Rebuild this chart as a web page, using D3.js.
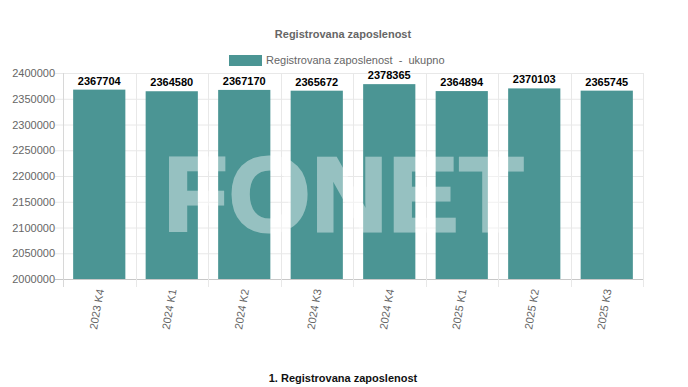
<!DOCTYPE html>
<html>
<head>
<meta charset="utf-8">
<script src="https://cdn.jsdelivr.net/npm/d3@7"></script>
<style>
  body { margin: 0; background: #fff; }
  text { font-family: "Liberation Sans", Arial, sans-serif; }
</style>
</head>
<body>
<script>
const quarters = ["2023 K4", "2024 K1", "2024 K2", "2024 K3", "2024 K4", "2025 K1", "2025 K2", "2025 K3"];
const employed = [2367704, 2364580, 2367170, 2365672, 2378365, 2364894, 2370103, 2365745];
const yTicks = [2000000, 2050000, 2100000, 2150000, 2200000, 2250000, 2300000, 2350000, 2400000];

const width = 688, height = 387;
const plotLeft = 63, plotRight = 643, plotTop = 73, plotBottom = 279;
const barColor = "#4b9594";

const svg = d3.select("body").append("svg")
  .attr("width", width)
  .attr("height", height);

const x = d3.scaleBand().domain(quarters).range([plotLeft, plotRight]).paddingInner(0.28).paddingOuter(0.14);
const y = d3.scaleLinear().domain([2000000, 2400000]).range([plotBottom, plotTop]);

// title + legend
svg.append("text")
  .attr("x", 343).attr("y", 38)
  .attr("text-anchor", "middle")
  .style("font-size", "11px").style("font-weight", "bold").attr("fill", "#666")
  .text("Registrovana zaposlenost");

svg.append("rect").attr("x", 229).attr("y", 55).attr("width", 33).attr("height", 11).attr("fill", barColor);
svg.append("text")
  .attr("x", 266).attr("y", 64)
  .style("font-size", "11px").style("white-space", "pre").attr("fill", "#666")
  .text("Registrovana zaposlenost  -  ukupno");

// horizontal grid + y labels
const yAxis = svg.append("g");
yTicks.forEach(t => {
  yAxis.append("line")
    .attr("x1", plotLeft - 8).attr("x2", plotRight)
    .attr("y1", y(t) + 0.5).attr("y2", y(t) + 0.5)
    .attr("stroke", t === 2000000 ? "#c8c8c8" : "#e8e8e8");
  yAxis.append("text")
    .attr("x", plotLeft - 8).attr("y", y(t) + 4)
    .attr("text-anchor", "end")
    .style("font-size", "11px").attr("fill", "#666")
    .text(t);
});

// vertical grid lines at category boundaries
const step = x.step();
d3.range(quarters.length + 1).forEach(i => {
  const gx = Math.round(plotLeft + i * step) + 0.5;
  svg.append("line")
    .attr("x1", gx).attr("x2", gx)
    .attr("y1", plotTop).attr("y2", plotBottom + 8)
    .attr("stroke", i === 0 ? "#d8d8d8" : "#e8e8e8");
});

// bars
svg.selectAll("rect.bar")
  .data(employed)
  .enter()
  .append("rect")
  .attr("class", "bar")
  .attr("x", (d, i) => x(quarters[i]))
  .attr("width", x.bandwidth())
  .attr("y", d => y(d))
  .attr("height", d => plotBottom - y(d))
  .attr("fill", barColor);

// watermark
svg.append("text")
  .attr("x", 344).attr("y", 231)
  .attr("text-anchor", "middle")
  .style("font-size", "105px").style("font-weight", "bold")
  .style("letter-spacing", "1px")
  .attr("fill", "#fff").attr("stroke", "#fff").attr("stroke-width", 3)
  .attr("stroke-linejoin", "miter")
  .attr("opacity", 0.42)
  .text("FONET");

// value labels
svg.selectAll("text.val")
  .data(employed)
  .enter()
  .append("text")
  .attr("class", "val")
  .attr("x", (d, i) => x(quarters[i]) + x.bandwidth() / 2)
  .attr("y", d => y(d) - 5)
  .attr("text-anchor", "middle")
  .style("font-size", "11px").style("font-weight", "bold").attr("fill", "#000")
  .text(d => d);

// x labels rotated
svg.selectAll("text.xl")
  .data(quarters)
  .enter()
  .append("text")
  .attr("class", "xl")
  .attr("transform", d => `translate(${x(d) + x.bandwidth() / 2 + 1},${plotBottom + 10}) rotate(-80)`)
  .attr("text-anchor", "end")
  .attr("dy", "0.35em")
  .style("font-size", "11px").attr("fill", "#666")
  .text(d => d);

// caption
svg.append("text")
  .attr("x", 343).attr("y", 382)
  .attr("text-anchor", "middle")
  .style("font-size", "11px").style("font-weight", "bold").attr("fill", "#111")
  .text("1. Registrovana zaposlenost");
</script>
</body>
</html>
